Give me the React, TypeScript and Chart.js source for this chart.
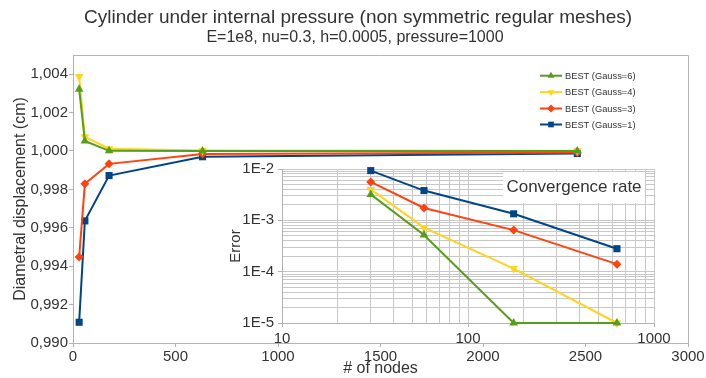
import React, { useEffect, useRef } from 'react';
import { Chart, registerables } from 'chart.js';
import { drawPoint } from 'chart.js/helpers';

Chart.register(...registerables);

// ---------- data ----------
const seriesLabels = ['BEST (Gauss=6)', 'BEST (Gauss=4)', 'BEST (Gauss=3)', 'BEST (Gauss=1)'];

const nodeCounts = [30, 58, 176, 632, 2460];
const gauss6 = [1.00322, 1.00052, 1.00001, 1.0, 1.0];
const gauss4 = [1.00388, 1.00074, 1.00012, 1.00002, 1.00001];
const gauss3 = [0.99448, 0.99829, 0.99933, 0.99984, 0.99992];
const gauss1 = [0.99108, 0.99636, 0.99872, 0.9997, 0.99987];

const errNodeCounts = [30, 58, 176, 632];
const err6 = [3.2e-3, 5.2e-4, 1e-5, 1e-5];
const err4 = [4.0e-3, 7.2e-4, 1.15e-4, 1e-5];
const err3 = [5.6e-3, 1.74e-3, 6.45e-4, 1.4e-4];
const err1 = [9.3e-3, 3.8e-3, 1.34e-3, 2.8e-4];

const mainYTicks = [0.99, 0.992, 0.994, 0.996, 0.998, 1.0, 1.002, 1.004];
const mainXTicks = [0, 500, 1000, 1500, 2000, 2500, 3000];
const insetXDecades = [10, 100, 1000];
const insetYDecades = [1e-5, 1e-4, 1e-3, 1e-2];

const titleText = 'Cylinder under internal pressure (non symmetric regular meshes)';
const subtitleText = 'E=1e8, nu=0.3, h=0.0005, pressure=1000';

// ---------- styles ----------
const FONT = "'Liberation Sans', Arial, Helvetica, sans-serif";
const TEXT = '#333333';
const AXIS = '#b3b3b3';
const GRID = '#c8c8c8';
const COLORS = ['#579d1c', '#ffd320', '#ff420e', '#004586'];
const MARKERS = [
  { pointStyle: 'triangle', rotation: 0, radius: 5 },
  { pointStyle: 'triangle', rotation: 180, radius: 5 },
  { pointStyle: 'rectRot', rotation: 0, radius: 4.5 },
  { pointStyle: 'rect', rotation: 0, radius: 5 },
];

Chart.defaults.font.family = FONT;

const isDecade = (v: number) => Math.abs(Math.log10(v) - Math.round(Math.log10(v))) < 1e-9;

function minorTicks(decades: number[]) {
  const out: number[] = [];
  for (let i = 0; i < decades.length; i++) {
    const d = decades[i];
    if (i === decades.length - 1) {
      out.push(d);
    } else {
      for (let k = 1; k <= 9; k++) out.push(k * d);
    }
  }
  return out;
}

function makeDatasets(xs: number[], series: number[][]) {
  return series.map((vals, i) => ({
    label: seriesLabels[i],
    data: xs.map((x, j) => ({ x, y: vals[j] })),
    borderColor: COLORS[i],
    backgroundColor: COLORS[i],
    borderWidth: 2,
    pointStyle: MARKERS[i].pointStyle,
    pointRotation: MARKERS[i].rotation,
    pointRadius: MARKERS[i].radius,
    pointBorderWidth: 0,
    showLine: true,
    clip: false,
  }));
}

const mainPlugin = {
  id: 'mainDecor',
  beforeDatasetsDraw(chart: any) {
    const { ctx, chartArea } = chart;
    ctx.save();
    ctx.strokeStyle = AXIS;
    ctx.lineWidth = 1;
    ctx.beginPath();
    ctx.moveTo(chartArea.left, Math.round(chartArea.top) + 0.5);
    ctx.lineTo(Math.round(chartArea.right) + 0.5, Math.round(chartArea.top) + 0.5);
    ctx.lineTo(Math.round(chartArea.right) + 0.5, chartArea.bottom);
    ctx.stroke();
    ctx.restore();
  },
  afterDraw(chart: any) {
    const { ctx } = chart;
    ctx.save();
    ctx.fillStyle = TEXT;
    ctx.textAlign = 'center';
    ctx.textBaseline = 'middle';
    ctx.font = `19px ${FONT}`;
    ctx.fillText(titleText, 358, 18);
    ctx.font = `16px ${FONT}`;
    ctx.fillText(subtitleText, 355, 38);

    // legend
    const ys = [75.7, 92.2, 108.5, 124.5];
    ctx.font = `9.3px ${FONT}`;
    ctx.textAlign = 'left';
    seriesLabels.forEach((lab, i) => {
      const y = ys[i];
      ctx.strokeStyle = COLORS[i];
      ctx.fillStyle = COLORS[i];
      ctx.lineWidth = 2;
      ctx.beginPath();
      ctx.moveTo(540, y);
      ctx.lineTo(562, y);
      ctx.stroke();
      drawPoint(ctx, { pointStyle: MARKERS[i].pointStyle, rotation: MARKERS[i].rotation, radius: 4, borderWidth: 0 } as any, 551, y);
      ctx.fillStyle = TEXT;
      ctx.fillText(lab, 565, y + 0.5);
    });
    ctx.restore();
  },
};

const insetPlugin = {
  id: 'insetDecor',
  afterDatasetsDraw(chart: any) {
    const { ctx } = chart;
    ctx.save();
    ctx.fillStyle = '#ffffff';
    ctx.fillRect(285, 16, 142, 31);
    ctx.fillStyle = TEXT;
    ctx.font = `17px ${FONT}`;
    ctx.textAlign = 'center';
    ctx.textBaseline = 'middle';
    ctx.fillText('Convergence rate', 356, 31);
    ctx.restore();
  },
};

export default function App() {
  const mainRef = useRef<HTMLCanvasElement>(null);
  const insetRef = useRef<HTMLCanvasElement>(null);

  useEffect(() => {
    document.body.style.margin = '0';
    const main = new Chart(mainRef.current as HTMLCanvasElement, {
      type: 'scatter',
      data: { datasets: makeDatasets(nodeCounts, [gauss6, gauss4, gauss3, gauss1]) as any },
      options: {
        animation: false,
        responsive: false,
        devicePixelRatio: 1,
        layout: { padding: { top: 55, right: 18, left: 0, bottom: 0 } },
        plugins: { legend: { display: false }, title: { display: false }, tooltip: { enabled: false } },
        scales: {
          x: {
            type: 'linear',
            min: 0,
            max: 3000,
            afterBuildTicks: (s: any) => { s.ticks = mainXTicks.map((v) => ({ value: v })); },
            ticks: {
              color: TEXT,
              font: { size: 15 },
              padding: 1,
              maxRotation: 0,
              autoSkip: false,
              callback: (v: any) => String(Math.round(Number(v))),
            },
            grid: { display: true, drawOnChartArea: false, drawTicks: true, tickLength: 4, color: AXIS },
            border: { display: true, color: AXIS },
            title: { display: true, text: '# of nodes', color: TEXT, font: { size: 16 }, padding: { top: 0, bottom: 0 } },
            afterFit: (s: any) => { s.height = 35; },
          },
          y: {
            type: 'linear',
            min: 0.99,
            max: 1.005,
            afterBuildTicks: (s: any) => { s.ticks = mainYTicks.map((v) => ({ value: v })); },
            ticks: {
              color: TEXT,
              font: { size: 15 },
              padding: 1,
              autoSkip: false,
              callback: (v: any) => Number(v).toFixed(3).replace('.', ','),
            },
            grid: { display: true, drawOnChartArea: false, drawTicks: true, tickLength: 4, color: AXIS },
            border: { display: true, color: AXIS },
            title: { display: true, text: 'Diametral displacement (cm)', color: TEXT, font: { size: 16 }, padding: { top: 11, bottom: 0 } },
            afterFit: (s: any) => { s.width = 73; },
          },
        },
      } as any,
      plugins: [mainPlugin],
    });

    const inset = new Chart(insetRef.current as HTMLCanvasElement, {
      type: 'scatter',
      data: { datasets: makeDatasets(errNodeCounts, [err6, err4, err3, err1]) as any },
      options: {
        animation: false,
        responsive: false,
        devicePixelRatio: 1,
        layout: { padding: { top: 9, right: 20, left: 0, bottom: 0 } },
        plugins: { legend: { display: false }, title: { display: false }, tooltip: { enabled: false } },
        scales: {
          x: {
            type: 'logarithmic',
            min: 10,
            max: 1000,
            afterBuildTicks: (s: any) => { s.ticks = minorTicks(insetXDecades).map((v) => ({ value: v })); },
            ticks: {
              color: TEXT,
              font: { size: 15 },
              padding: 3,
              maxRotation: 0,
              autoSkip: false,
              callback: (v: any) => (isDecade(Number(v)) ? String(Math.round(Number(v))) : ''),
            },
            grid: {
              display: true,
              color: GRID,
              tickLength: 4,
              tickColor: (c: any) => (c.tick && isDecade(c.tick.value) ? AXIS : 'rgba(0,0,0,0)'),
            },
            border: { display: true, color: AXIS },
            afterFit: (s: any) => { s.height = 29; },
          },
          y: {
            type: 'logarithmic',
            min: 1e-5,
            max: 1e-2,
            afterBuildTicks: (s: any) => { s.ticks = minorTicks(insetYDecades).map((v) => ({ value: v })); },
            ticks: {
              color: TEXT,
              font: { size: 15 },
              padding: 4,
              autoSkip: false,
              callback: (v: any) => (isDecade(Number(v)) ? `1E${Math.round(Math.log10(Number(v)))}` : ''),
            },
            grid: {
              display: true,
              color: GRID,
              tickLength: 4,
              tickColor: (c: any) => (c.tick && isDecade(c.tick.value) ? AXIS : 'rgba(0,0,0,0)'),
            },
            border: { display: true, color: AXIS },
            title: { display: true, text: 'Error', color: TEXT, font: { size: 15 }, padding: { top: 9, bottom: 0 } },
            afterFit: (s: any) => { s.width = 64; },
          },
        },
      } as any,
      plugins: [insetPlugin],
    });

    return () => {
      main.destroy();
      inset.destroy();
    };
  }, []);

  return (
    <div style={{ position: 'relative', width: 706, height: 378, background: '#ffffff', overflow: 'hidden' }}>
      <canvas ref={mainRef} width={706} height={378} style={{ position: 'absolute', left: 0, top: 0, width: 706, height: 378 }} />
      <canvas ref={insetRef} width={456} height={196} style={{ position: 'absolute', left: 218, top: 156, width: 456, height: 196 }} />
    </div>
  );
}
